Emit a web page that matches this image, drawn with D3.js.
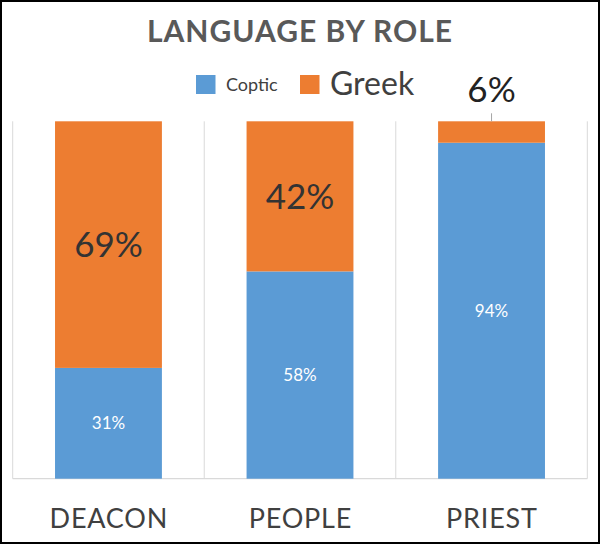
<!DOCTYPE html>
<html><head><meta charset="utf-8">
<script src="https://cdn.jsdelivr.net/npm/d3@7/dist/d3.min.js"></script>
<style>html,body{margin:0;padding:0;background:#fff}svg{display:block}</style>
</head><body>
<script>
const categories = ["DEACON", "PEOPLE", "PRIEST"];
const seriesNames = ["Coptic", "Greek"];
const coptic = [31, 58, 94];
const greek = [69, 42, 6];
const title = "LANGUAGE BY ROLE";

const W = 600, H = 544;
const colors = {Coptic: "#5b9bd5", Greek: "#ed7d31"};
const font = "Lato, 'Open Sans', sans-serif";

const svg = d3.select("body").append("svg").attr("width", W).attr("height", H);
svg.append("rect").attr("x", 1).attr("y", 1).attr("width", W - 2).attr("height", H - 2)
  .attr("fill", "#fff").attr("stroke", "#000").attr("stroke-width", 2);

const plot = {left: 12.7, right: 587.3, top: 121.3, bottom: 478.7};
const x = d3.scaleBand().domain(categories).range([plot.left, plot.right]).padding(0);
const barW = x.bandwidth() * 0.558;
const y = d3.scaleLinear().domain([0, 100]).range([plot.bottom, plot.top]);

// gridlines at category boundaries
const bounds = categories.map(c => x(c)).concat([plot.right]);
svg.append("g").selectAll("line").data(bounds).join("line")
  .attr("x1", d => d).attr("x2", d => d).attr("y1", plot.top).attr("y2", plot.bottom)
  .attr("stroke", "#d9d9d9").attr("stroke-width", 1);
svg.append("line").attr("x1", plot.left).attr("x2", plot.right)
  .attr("y1", plot.bottom).attr("y2", plot.bottom).attr("stroke", "#d9d9d9").attr("stroke-width", 1.2);

const rows = categories.map((c, i) => ({cat: c, Coptic: coptic[i], Greek: greek[i]}));
const stacked = d3.stack().keys(seriesNames)(rows);

svg.append("g").selectAll("g").data(stacked).join("g")
  .attr("fill", d => colors[d.key])
  .selectAll("rect").data(d => d).join("rect")
  .attr("x", d => x(d.data.cat) + (x.bandwidth() - barW) / 2)
  .attr("width", barW)
  .attr("y", d => y(d[1]))
  .attr("height", d => y(d[0]) - y(d[1]));

// labels
const lab = svg.append("g").attr("font-family", font);
stacked.forEach(s => {
  s.forEach(d => {
    const cx = x(d.data.cat) + x.bandwidth() / 2;
    const v = d[1] - d[0];
    const mid = (y(d[0]) + y(d[1])) / 2;
    if (s.key === "Coptic") {
      lab.append("text").attr("x", cx).attr("y", mid).attr("dy", "0.36em")
        .attr("text-anchor", "middle").attr("fill", "#fff").attr("font-size", 17)
        .text(v + "%");
    } else if (v >= 15) {
      lab.append("text").attr("x", cx).attr("y", mid).attr("dy", "0.36em")
        .attr("text-anchor", "middle").attr("fill", "#333").attr("font-size", 35)
        .text(v + "%");
    } else {
      const top = y(d[1]);
      lab.append("line").attr("x1", cx).attr("x2", cx).attr("y1", top - 8).attr("y2", top)
        .attr("stroke", "#a6a6a6").attr("stroke-width", 1);
      lab.append("text").attr("x", cx).attr("y", top - 19)
        .attr("text-anchor", "middle").attr("fill", "#222").attr("font-size", 35)
        .text(v + "%");
    }
  });
});

// category axis labels
svg.append("g").selectAll("text").data(categories).join("text")
  .attr("x", d => x(d) + x.bandwidth() / 2 + 0.4).attr("y", 528)
  .attr("text-anchor", "middle").attr("font-family", font).attr("font-size", 27)
  .attr("letter-spacing", 0.8).attr("fill", "#404040").text(d => d);

// title
svg.append("text").attr("x", 300).attr("y", 42).attr("text-anchor", "middle")
  .attr("font-family", font).attr("font-weight", "bold").attr("font-size", 30)
  .attr("letter-spacing", 1).attr("fill", "#595959").text(title);

// legend
const leg = svg.append("g").attr("font-family", font).attr("fill", "#404040");
leg.append("rect").attr("x", 196).attr("y", 75).attr("width", 19.5).attr("height", 19).attr("fill", colors.Coptic);
leg.append("text").attr("x", 226).attr("y", 91).attr("font-size", 18).attr("fill", "#404040").text(seriesNames[0]);
leg.append("rect").attr("x", 300).attr("y", 75).attr("width", 19.5).attr("height", 19).attr("fill", colors.Greek);
leg.append("text").attr("x", 330).attr("y", 95).attr("font-size", 32).attr("fill", "#404040").text(seriesNames[1]);
</script>
</body></html>
